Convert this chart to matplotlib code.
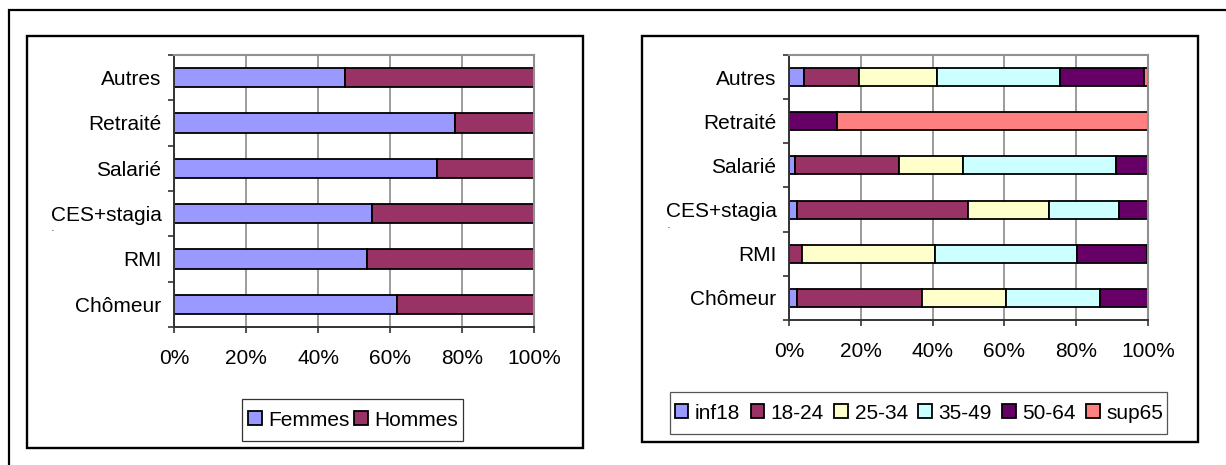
import matplotlib
matplotlib.use("Agg")
import matplotlib.pyplot as plt
from matplotlib.patches import Rectangle
import numpy as np

plt.rcParams['font.family'] = ['Liberation Sans', 'DejaVu Sans']

categories = ["Chômeur", "RMI", "CES+stagia", "Salarié", "Retraité", "Autres"]

# Left chart: share by sex (%)
femmes = [62.0, 53.5, 55.0, 73.0, 78.0, 47.5]
hommes = [38.0, 46.5, 45.0, 27.0, 22.0, 52.5]
sex_labels = ["Femmes", "Hommes"]
sex_colors = ["#9999FF", "#993366"]

# Right chart: share by age group (%)
age_labels = ["inf18", "18-24", "25-34", "35-49", "50-64", "sup65"]
inf18 = [2.1, 0.0, 2.1, 1.6, 0.0, 4.1]
a18_24 = [35.0, 3.7, 47.7, 29.1, 0.0, 15.4]
a25_34 = [23.3, 37.0, 22.6, 17.8, 0.0, 21.6]
a35_49 = [26.3, 39.5, 19.6, 42.5, 0.0, 34.5]
a50_64 = [13.3, 19.4, 8.0, 9.0, 13.3, 23.4]
sup65 = [0.0, 0.4, 0.0, 0.0, 86.7, 1.0]
age_colors = ["#9999FF", "#993366", "#FFFFCC", "#CCFFFF", "#660066", "#FF8080"]

xticks = [0, 20, 40, 60, 80, 100]
xtick_labels = ["0%", "20%", "40%", "60%", "80%", "100%"]

W, H = 1226, 465
fig = plt.figure(figsize=(W / 100, H / 100), dpi=100)

def fx(px):
    return px / W

def fy(py):
    return 1 - py / H

def box(x0, y0, x1, y1, lw, color='black'):
    fig.patches.append(Rectangle((fx(x0), fy(y1)), fx(x1) - fx(x0), fy(y0) - fy(y1),
                                 transform=fig.transFigure, fill=False,
                                 edgecolor=color, lw=lw))

# outer frame
box(9, 10, 1232, 470, 1.6)
# chart boxes
box(27, 36, 583, 448, 1.7)
box(642, 36, 1198, 442, 1.7)
# legend frames
box(242, 399, 463, 441, 0.9, '#333333')
box(670, 392, 1167, 434, 0.9, '#555555')

FS = 15

def style_axes(ax):
    n = len(categories)
    ax.set_xlim(0, 100)
    ax.set_ylim(-0.5, n - 0.5)
    ax.set_xticks(xticks)
    ax.set_xticklabels(xtick_labels, fontsize=FS)
    ax.set_yticks(np.arange(n))
    ax.set_yticklabels(categories, fontsize=FS)
    ax.set_yticks(np.arange(n + 1) - 0.5, minor=True)
    ax.tick_params(axis='y', which='major', length=0, pad=9)
    ax.tick_params(axis='y', which='minor', length=4, direction='out', color='#333333', width=1.2)
    ax.tick_params(axis='x', which='major', length=4, direction='out', pad=12, color='#333333', width=1.2)
    ax.grid(axis='x', color='#808080', lw=1.1)
    ax.set_axisbelow(True)
    for s in ['top', 'right']:
        ax.spines[s].set_color('#909090')
        ax.spines[s].set_linewidth(1.5)
    for s in ['left', 'bottom']:
        ax.spines[s].set_color('#333333')
        ax.spines[s].set_linewidth(1.4)

# Left axes
axL = fig.add_axes([fx(174), fy(327), fx(534) - fx(174), fy(55) - fy(327)])
y = np.arange(len(categories))
left = np.zeros(len(categories))
for vals, lab, col in zip([femmes, hommes], sex_labels, sex_colors):
    axL.barh(y, vals, left=left, height=0.42, color=col, edgecolor='black', lw=1.3, label=lab)
    left += np.array(vals)
style_axes(axL)

# Right axes
axR = fig.add_axes([fx(789), fy(320), fx(1148) - fx(789), fy(55) - fy(320)])
left = np.zeros(len(categories))
for vals, lab, col in zip([inf18, a18_24, a25_34, a35_49, a50_64, sup65], age_labels, age_colors):
    axR.barh(y, vals, left=left, height=0.41, color=col, edgecolor='black', lw=1.3, label=lab)
    left += np.array(vals)
style_axes(axR)

# small truncated dot below "CES+stagia" labels
fig.text(fx(52), fy(231), "·", fontsize=8, ha='center', va='center')
fig.text(fx(668), fy(228), "·", fontsize=8, ha='center', va='center')

leg_kw = dict(fontsize=FS, handlelength=0.67, handleheight=0.67, handletextpad=0.3,
              borderpad=0.0, frameon=False, borderaxespad=0)
legL = fig.legend(*axL.get_legend_handles_labels(), loc='center', ncol=2,
                  columnspacing=0.2, bbox_to_anchor=(fx(353), fy(420)), **leg_kw)
legR = fig.legend(*axR.get_legend_handles_labels(), loc='center', ncol=6,
                  columnspacing=0.5, bbox_to_anchor=(fx(919), fy(413)), **leg_kw)

fig.savefig("out.png", dpi=100)
